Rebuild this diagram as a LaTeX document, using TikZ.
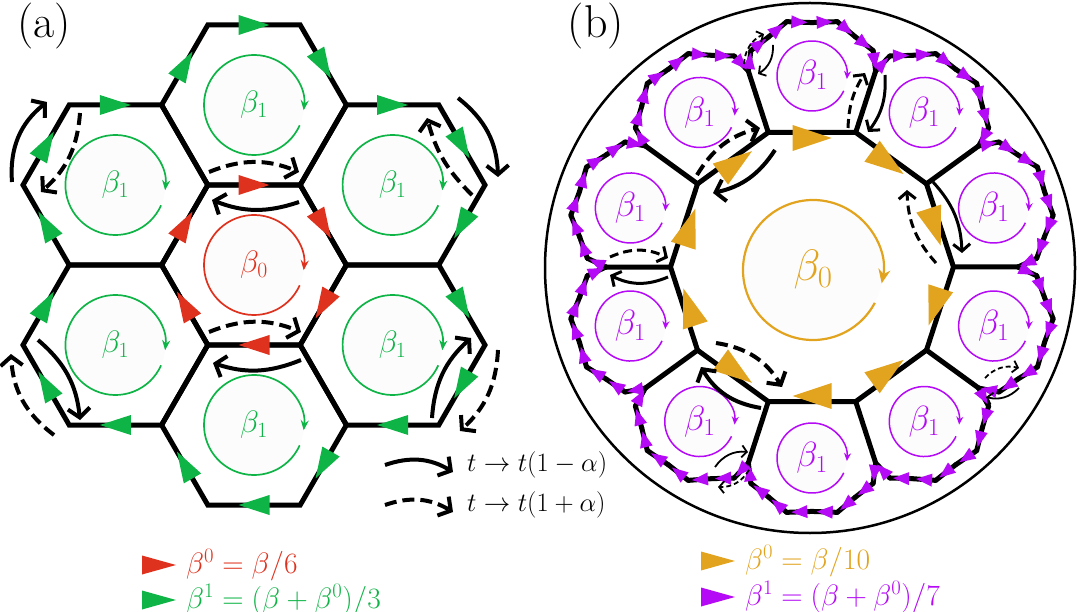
\documentclass[tikz,border=0pt]{standalone}
\usepackage{fix-cm}
\usetikzlibrary{arrows.meta,calc}
\definecolor{cred}{RGB}{222,50,30}
\definecolor{cgreen}{RGB}{15,180,70}
\definecolor{cgold}{RGB}{226,163,30}
\definecolor{cpurp}{RGB}{180,10,245}
\newcommand{\setfs}[1]{\fontsize{#1}{#1}\selectfont}
\newcommand{\arrtri}[5]{\fill[#1,shift={#2},rotate={#3}] (-#4/2,-#5/2) -- (#4/2,0) -- (-#4/2,#5/2) -- cycle;}
\tikzset{
  lat/.style={line width=5pt},
  hopA/.style={line width=4pt,-{Straight Barb[length=9pt,width=22pt]}},
  hopB/.style={line width=3pt,-{Straight Barb[length=7pt,width=17pt]}},
  hopC/.style={line width=1.8pt,-{Straight Barb[length=5pt,width=12pt]}},
  dA/.style={dash pattern=on 12pt off 6pt},
  dB/.style={dash pattern=on 9pt off 5pt},
  dC/.style={dash pattern=on 5pt off 3pt},
  rotA/.style={line width=1.7pt,-{Stealth[length=10pt,width=8pt]}},
  rotB/.style={line width=1.5pt,-{Stealth[length=8pt,width=7pt]}},
  rotC/.style={line width=2.2pt,-{Stealth[length=14pt,width=12pt]}},
  circfill/.style={fill=black!1.2},
}
\begin{document}
\begin{tikzpicture}[x=1pt,y=1pt]
\useasboundingbox (0,0) rectangle (1079,-612);

% ---------------- panel (a) ----------------
\node[font=\setfs{46},inner sep=0] (pa) at (44,-26) {(a)};
\coordinate (C0) at (254,-265);
\coordinate (NT) at (254,-105);
\coordinate (NB) at (254,-425);
\coordinate (NUL) at (115.4,-185);
\coordinate (NUR) at (392.6,-185);
\coordinate (NLL) at (115.4,-345);
\coordinate (NLR) at (392.6,-345);

\foreach \c in {NT,NB,NUL,NUR,NLL,NLR}{
  \fill[circfill] (\c) circle[radius=50];
  \draw[rotA,cgreen] (\c) ++(-24:50) arc[start angle=-24,end angle=-366,radius=50];
  \node[text=cgreen,font=\setfs{31}] (lab\c) at (\c) {$\beta_1$};
}
\fill[circfill] (C0) circle[radius=50];
\draw[rotA,cred] (C0) ++(-24:50) arc[start angle=-24,end angle=-366,radius=50];
\node[text=cred,font=\setfs{31}] (labC0) at (C0) {$\beta_0$};

\foreach \c in {C0,NT,NB,NUL,NUR,NLL,NLR}{
  \draw[lat] (\c) +(0:92.4) -- +(60:92.4) -- +(120:92.4) -- +(180:92.4) -- +(240:92.4) -- +(300:92.4) -- cycle;
}

\foreach \m in {30,90,...,330}{
  \arrtri{cred}{($(C0)+(\m:80)$)}{\m-90}{31}{20}
}
\foreach \c/\p in {NT/90,NUR/30,NLR/-30,NB/-90,NLL/-150,NUL/150}{
  \foreach \d in {-60,0,60}{
    \arrtri{cgreen}{($(\c)+({\p+\d}:80)$)}{\p+\d-90}{31}{20}
  }
}

% hopping arrows (a)
\coordinate (As1) at (12,-182);  \coordinate (As2) at (47,-102);
\coordinate (Ad1) at (80,-113);  \coordinate (Ad2) at (41,-192);
\coordinate (Bd1) at (209,-172); \coordinate (Bd2) at (299,-172);
\coordinate (Bs1) at (299,-202); \coordinate (Bs2) at (212,-200);
\coordinate (Cs1) at (458,-98);  \coordinate (Cs2) at (498,-177);
\coordinate (Cd1) at (472,-195); \coordinate (Cd2) at (427,-118);
\coordinate (Dd1) at (209,-332); \coordinate (Dd2) at (301,-332);
\coordinate (Ds1) at (301,-360); \coordinate (Ds2) at (213,-363);
\coordinate (Es1) at (38,-340);  \coordinate (Es2) at (80,-420);
\coordinate (Ed1) at (54,-435);  \coordinate (Ed2) at (11,-354);
\coordinate (Fs1) at (432,-418); \coordinate (Fs2) at (471,-338);
\coordinate (Fd1) at (498,-350); \coordinate (Fd2) at (460,-431);
\draw[hopA] (As1) to[bend left=28] (As2);
\draw[hopA,dA] (Ad1) to[bend left=22] (Ad2);
\draw[hopA,dA] (Bd1) to[bend left=22] (Bd2);
\draw[hopA] (Bs1) to[bend left=20] (Bs2);
\draw[hopA] (Cs1) to[bend left=25] (Cs2);
\draw[hopA,dA] (Cd1) to[bend left=15] (Cd2);
\draw[hopA,dA] (Dd1) to[bend left=22] (Dd2);
\draw[hopA] (Ds1) to[bend left=20] (Ds2);
\draw[hopA] (Es1) to[bend left=22] (Es2);
\draw[hopA,dA] (Ed1) to[bend left=25] (Ed2);
\draw[hopA] (Fs1) to[bend left=22] (Fs2);
\draw[hopA,dA] (Fd1) to[bend left=22] (Fd2);

% key of hopping arrows
\coordinate (K1a) at (385,-465); \coordinate (K1b) at (453,-472);
\coordinate (K2a) at (385,-505); \coordinate (K2b) at (453,-512);
\draw[hopA] (K1a) to[bend left=25] (K1b);
\draw[hopA,dA] (K2a) to[bend left=25] (K2b);
\node[anchor=west,inner sep=0,font=\setfs{26.5}] (k1) at (467,-465) {$t\to t(1-\alpha)$};
\node[anchor=west,inner sep=0,font=\setfs{26.5}] (k2) at (467,-505) {$t\to t(1+\alpha)$};

% legend (a)
\arrtri{cred}{(159,-565)}{0}{34}{19}
\arrtri{cgreen}{(159,-600)}{0}{34}{19}
\node[anchor=west,inner sep=0,font=\setfs{29.5},text=cred] (la1) at (186,-565) {$\beta^0=\beta/6$};
\node[anchor=west,inner sep=0,font=\setfs{29.5},text=cgreen] (la2) at (186,-600) {$\beta^1=(\beta+\beta^0)/3$};

% ---------------- panel (b) ----------------
\node[font=\setfs{46},inner sep=0] (pb) at (596,-26) {(b)};
\coordinate (O) at (812,-267);
\coordinate (BC) at (810,-268);
\draw[line width=2.5pt] (BC) circle[radius=265];

\coordinate (Oc) at (813,-270);
\fill[circfill] (Oc) circle[radius=70];
\draw[rotC,cgold] (Oc) ++(-28:70) arc[start angle=-28,end angle=-371,radius=70];
\node[text=cgold,font=\setfs{44}] (lb0) at (Oc) {$\beta_0$};

\foreach \k in {0,...,9}{
  \coordinate (H\k) at ($(O)+({36*\k+18}:191)$);
  \fill[circfill] (H\k) circle[radius=35];
  \draw[rotB,cpurp] (H\k) ++(-25:35) arc[start angle=-25,end angle=-365,radius=35];
  \node[text=cpurp,font=\setfs{35}] (hl\k) at (H\k) {$\beta_1$};
}

\foreach \k in {0,...,9}{
  \begin{scope}[shift={(O)},rotate={36*\k-72}]
    \draw[lat] (-63.66,195.92) -- (-43.73,134.57) -- (43.73,134.57);
    \foreach \i in {0,...,7}{
      \pgfmathsetmacro\sa{22.5*\i}
      \pgfmathsetmacro\sb{22.5*\i+22.5}
      \pgfmathsetmacro\ja{ifthenelse(\i==0,0,ifthenelse(mod(\i,2)==1,2.5,-2.5))}
      \pgfmathsetmacro\jb{ifthenelse(\i==7,0,ifthenelse(mod(\i+1,2)==1,2.5,-2.5))}
      \pgfmathsetmacro\xa{-(63.66+(\ja))*cos(\sa)}
      \pgfmathsetmacro\ya{195.92+(51+(\ja))*sin(\sa)}
      \pgfmathsetmacro\xb{-(63.66+(\jb))*cos(\sb)}
      \pgfmathsetmacro\yb{195.92+(51+(\jb))*sin(\sb)}
      \draw[lat,line cap=round] (\xa,\ya) -- (\xb,\yb);
    }
  \end{scope}
}
\foreach \k in {0,...,9}{
  \begin{scope}[shift={(O)},rotate={36*\k-72}]
    \foreach \i in {0,...,7}{
      \pgfmathsetmacro\sa{22.5*\i}
      \pgfmathsetmacro\sb{22.5*\i+22.5}
      \pgfmathsetmacro\ja{ifthenelse(\i==0,0,ifthenelse(mod(\i,2)==1,2.5,-2.5))}
      \pgfmathsetmacro\jb{ifthenelse(\i==7,0,ifthenelse(mod(\i+1,2)==1,2.5,-2.5))}
      \pgfmathsetmacro\xa{-(63.66+(\ja))*cos(\sa)}
      \pgfmathsetmacro\ya{195.92+(51+(\ja))*sin(\sa)}
      \pgfmathsetmacro\xb{-(63.66+(\jb))*cos(\sb)}
      \pgfmathsetmacro\yb{195.92+(51+(\jb))*sin(\sb)}
      \pgfmathsetmacro\ang{atan2((\yb)-(\ya),(\xb)-(\xa))}
      \pgfmathsetmacro\xm{((\xa)+(\xb))/2}
      \pgfmathsetmacro\ym{((\ya)+(\yb))/2}
      \fill[cpurp,shift={(\xm,\ym)},rotate=\ang] (-8,-6.5) -- (8,0) -- (-8,6.5) -- cycle;
    }
  \end{scope}
}
\foreach \k/\r in {0/-90,1/-90,2/-90,3/-90,4/-90,5/-90,6/90,7/-90,8/90,9/-90}{
  \arrtri{cgold}{($(O)+({36*\k+18}:129)$)}{36*\k+18+\r}{39}{26}
}

% hopping arrows (b)
\coordinate (P1d1) at (744,-64);  \coordinate (P1d2) at (764,-34);
\coordinate (P1s1) at (773,-45);  \coordinate (P1s2) at (758,-74);
\coordinate (P2d1) at (848,-128); \coordinate (P2d2) at (865,-73);
\coordinate (P2s1) at (885,-75);  \coordinate (P2s2) at (868,-132);
\coordinate (P3d1) at (697,-175); \coordinate (P3d2) at (760,-128);
\coordinate (P3s1) at (775,-150); \coordinate (P3s2) at (713,-193);
\coordinate (P4d1) at (936,-263); \coordinate (P4d2) at (907,-190);
\coordinate (P4s1) at (933,-182); \coordinate (P4s2) at (962,-253);
\coordinate (P5d1) at (610,-257); \coordinate (P5d2) at (668,-258);
\coordinate (P5s1) at (668,-277); \coordinate (P5s2) at (610,-275);
\coordinate (P6d1) at (716,-343); \coordinate (P6d2) at (782,-387);
\coordinate (P6s1) at (761,-408); \coordinate (P6s2) at (701,-367);
\coordinate (P7s1) at (715,-467); \coordinate (P7s2) at (748,-452);
\coordinate (P7d1) at (749,-470); \coordinate (P7d2) at (718,-487);
\coordinate (P8d1) at (985,-378); \coordinate (P8d2) at (1019,-368);
\coordinate (P8s1) at (1019,-388); \coordinate (P8s2) at (986,-397);
\draw[hopC,dC] (P1d1) to[bend left=30] (P1d2);
\draw[hopC] (P1s1) to[bend left=30] (P1s2);
\draw[hopB,dB] (P2d1) to[bend left=15] (P2d2);
\draw[hopB] (P2s1) to[bend left=20] (P2s2);
\draw[hopA,dA] (P3d1) to[bend left=22] (P3d2);
\draw[hopA] (P3s1) to[bend left=22] (P3s2);
\draw[hopB,dB] (P4d1) to[bend left=20] (P4d2);
\draw[hopB] (P4s1) to[bend left=20] (P4s2);
\draw[hopB,dB] (P5d1) to[bend left=25] (P5d2);
\draw[hopB] (P5s1) to[bend left=25] (P5s2);
\draw[hopA,dA] (P6d1) to[bend left=25] (P6d2);
\draw[hopA] (P6s1) to[bend left=25] (P6s2);
\draw[hopC] (P7s1) to[bend left=30] (P7s2);
\draw[hopC,dC] (P7d1) to[bend left=30] (P7d2);
\draw[hopC,dC] (P8d1) to[bend left=30] (P8d2);
\draw[hopC] (P8s1) to[bend left=30] (P8s2);

% legend (b)
\arrtri{cgold}{(718,-561)}{0}{34}{19}
\arrtri{cpurp}{(718,-597)}{0}{34}{19}
\node[anchor=west,inner sep=0,font=\setfs{29.5},text=cgold] (lb1) at (745,-561) {$\beta^0=\beta/10$};
\node[anchor=west,inner sep=0,font=\setfs{29.5},text=cpurp] (lb2) at (745,-597) {$\beta^1=(\beta+\beta^0)/7$};
\end{tikzpicture}
\end{document}
